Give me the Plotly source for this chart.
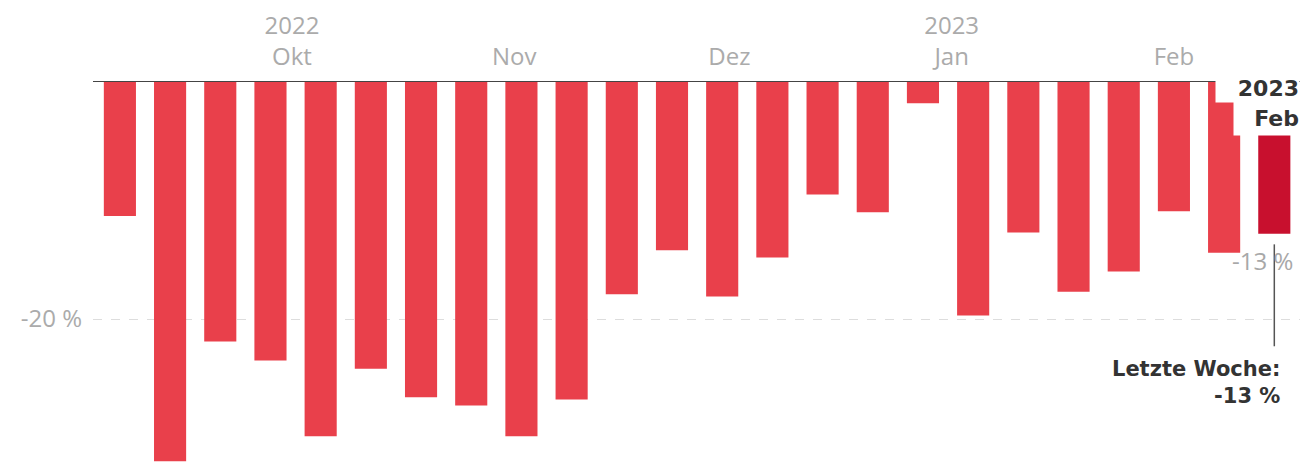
import plotly.graph_objects as go
import pandas as pd

# Weekly change (%), 24 weeks from early Sep 2022 to mid Feb 2023
week_dates = pd.date_range("2022-09-07", periods=24, freq="7D")
values = [-11.3, -32.0, -21.9, -23.5, -29.9, -24.2, -26.6, -27.3, -29.9, -26.8,
          -17.9, -14.2, -18.1, -14.8, -9.5, -11.0, -1.8, -19.7, -12.7, -17.7,
          -16.0, -10.9, -14.4, -12.8]

tick_dates = ["2022-10-01", "2022-11-01", "2022-12-01", "2023-01-01", "2023-02-01"]
tick_labels = ["2022<br>Okt", "Nov", "Dez", "2023<br>Jan", "Feb"]

y_ticks = [-20]
y_tick_labels = ["-20 %"]

last_label = "-13 %"
callout_lines = ["Letzte Woche:", "-13 %"]
last_period = ["2023", "Feb"]

BAR = "#e9404b"
LAST = "#c8102e"
colors = [BAR] * (len(values) - 1) + [LAST]

fig = go.Figure()
fig.add_trace(go.Bar(x=week_dates, y=values, marker=dict(color=colors, line=dict(width=0)),
                     hoverinfo="x+y"))

last_x = week_dates[-1]
last_y = values[-1]

fig.update_layout(
    width=1305, height=463,
    margin=dict(l=93, r=5, t=82, b=0, pad=0),
    plot_bgcolor="white", paper_bgcolor="white",
    bargap=0.36, showlegend=False,
    font=dict(family="Open Sans", color="#aaaaaa", size=24),
    xaxis=dict(
        type="date", side="top",
        range=["2022-09-03 06:00", "2023-02-18 14:00"],
        tickvals=tick_dates, ticktext=tick_labels,
        showgrid=False, showline=True, linecolor="#444444", linewidth=1,
        ticks="", tickfont=dict(size=24, color="#ababab"),
        ticklabelstandoff=6, zeroline=False,
    ),
    yaxis=dict(
        range=[-32.15, 0], tickvals=y_ticks, ticktext=y_tick_labels,
        showgrid=True, gridcolor="#dddddd", griddash="dash", gridwidth=1,
        zeroline=False, showline=False, ticks="",
        tickfont=dict(size=24, color="#ababab"), ticklabelstandoff=10,
    ),
)

# Vertical leader line from the last bar to the callout
fig.add_shape(type="line", x0=last_x, x1=last_x, y0=last_y - 0.9, y1=-22.3,
              xref="x", yref="y", line=dict(color="#555555", width=1.5), layer="above")

# "-13 %" value label next to last bar
fig.add_annotation(x=last_x, y=-15.1, xref="x", yref="y", text=last_label,
                   showarrow=False, xanchor="center", xshift=-12,
                   font=dict(size=24, color="#a8a8a8"))

# Callout text
fig.add_annotation(x=1.0, y=-25.35, xref="paper", yref="y",
                   text="<br>".join(callout_lines),
                   showarrow=False, xanchor="right", xshift=-18, align="right",
                   font=dict(size=21, color="#333333", family="DejaVu Sans", weight="bold"))

# Highlighted x label for the last week (white boxes mask the top of the last bars)
fig.add_annotation(x=1.0, y=-0.5, xref="paper", yref="y", text=last_period[0],
                   showarrow=False, xanchor="right", xshift=0, align="right",
                   width=83, height=28,
                   font=dict(size=22, color="#333333", family="DejaVu Sans", weight="bold"),
                   bgcolor="white", borderpad=0)
fig.add_annotation(x=1.0, y=-3.04, xref="paper", yref="y", text=last_period[1],
                   showarrow=False, xanchor="right", xshift=0, align="right",
                   width=65, height=33,
                   font=dict(size=22, color="#333333", family="DejaVu Sans", weight="bold"),
                   bgcolor="white", borderpad=0)

fig.write_html("out.html")
